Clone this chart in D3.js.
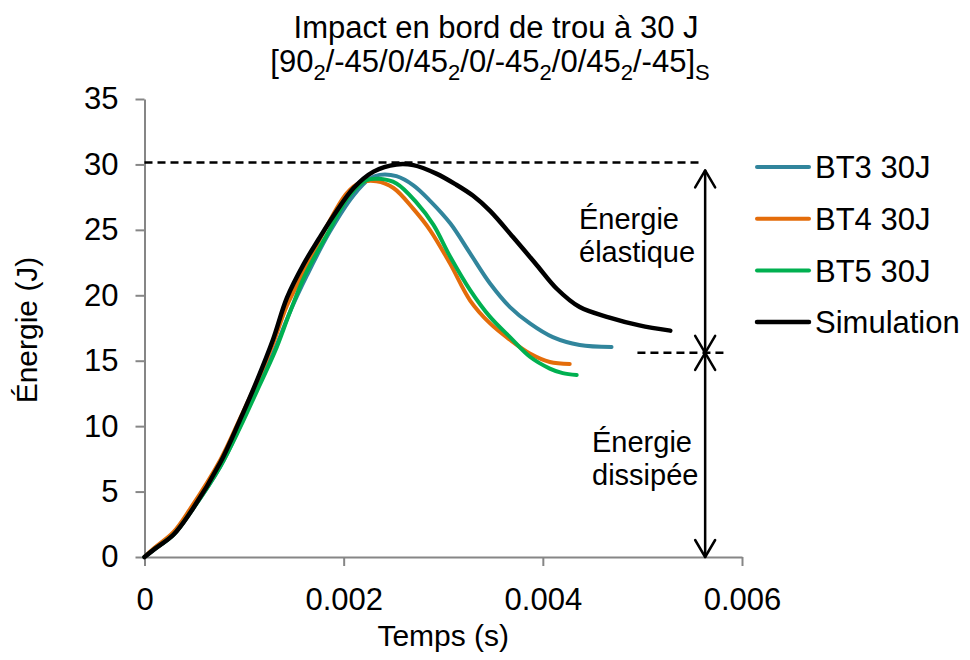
<!DOCTYPE html>
<html>
<head>
<meta charset="utf-8">
<script src="https://cdn.jsdelivr.net/npm/d3@7"></script>
<style>
  html, body { margin: 0; padding: 0; background: #fff; }
  svg { display: block; font-family: "Liberation Sans", Arial, sans-serif; }
</style>
</head>
<body>
<svg id="chart" width="970" height="660"></svg>
<script>
// ---------------- DATA ----------------
const titleLine1 = "Impact en bord de trou à 30 J";
// [text, isSubscript]
const titleLine2 = [["[90", false], ["2", true], ["/-45/0/45", false], ["2", true], ["/0/-45", false], ["2", true], ["/0/45", false], ["2", true], ["/-45]", false], ["S", true]];
const xAxisTitle = "Temps (s)";
const yAxisTitle = "Énergie (J)";
const xTicks = [0, 0.002, 0.004, 0.006];
const yTicks = [0, 5, 10, 15, 20, 25, 30, 35];

const seriesNames = ["BT3 30J", "BT4 30J", "BT5 30J", "Simulation"];
const seriesColors = ["#31859C", "#E46C0A", "#00B050", "#000000"];

// time in seconds, energy in J
const bt3Time = [0, 0.0001, 0.00029, 0.00046, 0.00076, 0.00096, 0.00113, 0.00131, 0.00147, 0.00163, 0.00186, 0.0021, 0.00226, 0.00236, 0.00253, 0.0027, 0.00287, 0.00307, 0.00327, 0.00347, 0.00367, 0.00387, 0.0041, 0.00437, 0.00469];
const bt3Energy = [0, 0.6, 1.7, 3.4, 6.9, 10.0, 12.9, 15.9, 18.9, 21.5, 24.85, 27.65, 28.9, 29.2, 29.1, 28.4, 27.2, 25.5, 23.2, 20.9, 19.1, 17.85, 16.8, 16.2, 16.05];

const bt4Time = [0, 0.0001, 0.00029, 0.00046, 0.00076, 0.00096, 0.00113, 0.00129, 0.00143, 0.00158, 0.0018, 0.00203, 0.00216, 0.00233, 0.0025, 0.0027, 0.00287, 0.00307, 0.00327, 0.00347, 0.00367, 0.00387, 0.00407, 0.00427];
const bt4Energy = [0, 0.7, 1.9, 3.7, 7.4, 10.6, 13.4, 16.3, 19.2, 21.5, 24.85, 27.8, 28.6, 28.72, 28.2, 26.6, 24.95, 22.4, 19.6, 17.85, 16.6, 15.55, 14.9, 14.75];

const bt5Time = [0, 0.0001, 0.00029, 0.00046, 0.00076, 0.00096, 0.00113, 0.00131, 0.00146, 0.00161, 0.00183, 0.00206, 0.00223, 0.00236, 0.00253, 0.00273, 0.0029, 0.00307, 0.00327, 0.00347, 0.00367, 0.00387, 0.00407, 0.0042, 0.00434];
const bt5Energy = [0, 0.6, 1.7, 3.4, 6.9, 9.9, 12.7, 15.7, 18.7, 21.5, 24.6, 27.65, 28.8, 28.9, 28.55, 27.1, 25.4, 22.95, 20.4, 18.35, 16.8, 15.3, 14.4, 14.05, 13.9];

const simTime = [0, 0.0001, 0.00029, 0.00046, 0.00076, 0.00096, 0.00113, 0.00129, 0.00143, 0.0016, 0.00175, 0.0019, 0.0021, 0.0023, 0.00253, 0.0027, 0.00293, 0.00313, 0.0033, 0.00347, 0.0037, 0.00394, 0.00414, 0.00437, 0.00467, 0.00497, 0.00528];
const simEnergy = [0, 0.6, 1.7, 3.4, 7.2, 10.5, 13.5, 16.6, 19.8, 22.4, 24.3, 26.1, 28.2, 29.45, 30.0, 29.95, 29.3, 28.45, 27.6, 26.45, 24.45, 22.3, 20.5, 19.1, 18.3, 17.7, 17.3];

// annotation (data units)
const maxEnergyLevel = 30.15;
const finalEnergyLevel = 15.6;
const annotX = 0.00563;
const topDashEndX = 0.00561;
const lowDashX = [0.00495, 0.00584];
const elasticLabel = ["Énergie", "élastique"];
const dissipLabel = ["Énergie", "dissipée"];

// ---------------- CHART ----------------
const svg = d3.select("#chart");
const x = d3.scaleLinear().domain([0, 0.006]).range([144.5, 742]);
const y = d3.scaleLinear().domain([0, 35]).range([557, 99]);
const axisColor = "#868686";

// Title
svg.append("text")
  .attr("x", 496).attr("y", 38)
  .attr("text-anchor", "middle")
  .attr("font-size", 31).attr("fill", "#000")
  .text(titleLine1);
const t2 = svg.append("text")
  .attr("x", 490).attr("y", 72)
  .attr("text-anchor", "middle")
  .attr("font-size", 31).attr("fill", "#000");
titleLine2.forEach(([txt, sub], i) => {
  const ts = t2.append("tspan").text(txt);
  if (sub) {
    ts.attr("font-size", 22).attr("dy", 8);
  } else if (i > 0 && titleLine2[i - 1][1]) {
    ts.attr("dy", -8);
  }
});

// Axes
const yAxis = d3.axisLeft(y).tickValues(yTicks).tickSize(9).tickSizeOuter(0).tickPadding(17)
  .tickFormat(d3.format("d"));
const gy = svg.append("g").attr("transform", `translate(${x(0)},0)`).call(yAxis);
const xAxis = d3.axisBottom(x).tickValues(xTicks).tickSize(9).tickSizeOuter(0).tickPadding(22)
  .tickFormat(d => d === 0 ? "0" : d.toFixed(3));
const gx = svg.append("g").attr("transform", `translate(0,${y(0)})`).call(xAxis);
[gx, gy].forEach(g => {
  g.select(".domain").attr("stroke", axisColor).attr("stroke-width", 2);
  g.selectAll(".tick line").attr("stroke", axisColor).attr("stroke-width", 2);
  g.selectAll(".tick text").attr("font-size", 31).attr("fill", "#000")
    .attr("font-family", "'Liberation Sans', Arial, sans-serif");
});

// Axis titles
svg.append("text")
  .attr("x", x(0.003)).attr("y", 646)
  .attr("text-anchor", "middle").attr("font-size", 30).attr("fill", "#000")
  .text(xAxisTitle);
svg.append("text")
  .attr("transform", `translate(37,${330}) rotate(-90)`)
  .attr("text-anchor", "middle").attr("font-size", 30).attr("fill", "#000")
  .text(yAxisTitle);

// Series lines
const seriesData = [
  bt3Time.map((t, i) => [t, bt3Energy[i]]),
  bt4Time.map((t, i) => [t, bt4Energy[i]]),
  bt5Time.map((t, i) => [t, bt5Energy[i]]),
  simTime.map((t, i) => [t, simEnergy[i]])
];
const line = d3.line().x(d => x(d[0])).y(d => y(d[1])).curve(d3.curveCatmullRom.alpha(0.5));

// Dashed reference lines
svg.append("line")
  .attr("x1", x(0)).attr("x2", x(topDashEndX))
  .attr("y1", y(maxEnergyLevel)).attr("y2", y(maxEnergyLevel))
  .attr("stroke", "#000").attr("stroke-width", 2.5).attr("stroke-dasharray", "8,5");
svg.append("line")
  .attr("x1", x(lowDashX[0])).attr("x2", x(lowDashX[1]))
  .attr("y1", y(finalEnergyLevel)).attr("y2", y(finalEnergyLevel))
  .attr("stroke", "#000").attr("stroke-width", 2.5).attr("stroke-dasharray", "8,5");

seriesData.forEach((d, i) => {
  svg.append("path")
    .datum(d)
    .attr("fill", "none")
    .attr("stroke", seriesColors[i])
    .attr("stroke-width", i === 3 ? 4.5 : 4)
    .attr("stroke-linejoin", "round")
    .attr("stroke-linecap", "round")
    .attr("d", line);
});

// Double arrows
function doubleArrow(x0, yTop, yBot) {
  const g = svg.append("g").attr("stroke", "#000").attr("stroke-width", 2.5).attr("fill", "none")
    .attr("stroke-linecap", "round").attr("stroke-linejoin", "round");
  g.append("line").attr("x1", x0).attr("x2", x0).attr("y1", yTop).attr("y2", yBot);
  g.append("path").attr("d", `M${x0 - 10},${yTop + 17}L${x0},${yTop}L${x0 + 10},${yTop + 17}`);
  g.append("path").attr("d", `M${x0 - 10},${yBot - 17}L${x0},${yBot}L${x0 + 10},${yBot - 17}`);
}
doubleArrow(x(annotX), y(maxEnergyLevel) + 8, y(finalEnergyLevel));
doubleArrow(x(annotX), y(finalEnergyLevel), y(0));

// Annotation labels
function label(lines, x0, yBase) {
  const t = svg.append("text").attr("font-size", 29).attr("fill", "#000");
  lines.forEach((l, i) => {
    t.append("tspan").attr("x", x0).attr("y", yBase + i * 33).text(l);
  });
}
label(elasticLabel, 579, 229);
label(dissipLabel, 592, 452);

// Legend
const legend = svg.append("g");
seriesNames.forEach((name, i) => {
  const yy = 167 + i * 51.7;
  legend.append("line").attr("x1", 757).attr("x2", 809).attr("y1", yy).attr("y2", yy)
    .attr("stroke", seriesColors[i]).attr("stroke-width", i === 3 ? 4.5 : 4)
    .attr("stroke-linecap", "round");
  legend.append("text").attr("x", 815).attr("y", yy).attr("dy", "0.36em")
    .attr("font-size", 31).attr("fill", "#000").text(name);
});
</script>
</body>
</html>
